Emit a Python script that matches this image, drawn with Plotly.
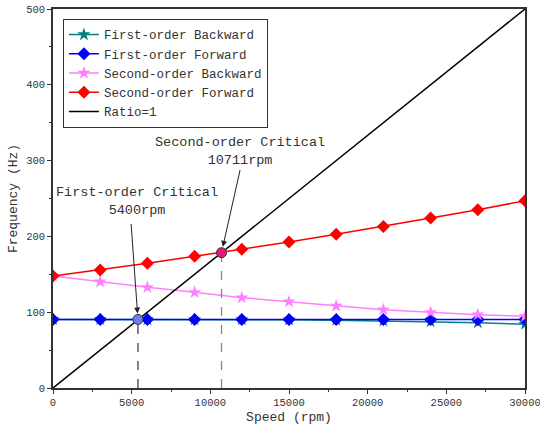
import plotly.graph_objects as go

speed = [0, 3000, 6000, 9000, 12000, 15000, 18000, 21000, 24000, 27000, 30000]
first_backward = [90.5, 90.5, 90.4, 90.3, 90.2, 90.0, 89.5, 88.6, 87.6, 86.2, 84.2]
first_forward = [90.5, 90.5, 90.5, 90.5, 90.5, 90.5, 90.5, 90.5, 90.5, 90.5, 90.5]
second_backward = [147.8, 140.2, 132.8, 126.2, 119.2, 113.9, 108.2, 103.3, 99.8, 96.7, 94.6]
second_forward = [147.8, 155.7, 164.5, 173.7, 183.0, 192.6, 202.8, 213.2, 224.2, 235.2, 247.0]
ratio_speed = [0, 30000]
ratio_freq = [0, 500]

crit_names = ["First-order Critical<br>5400rpm", "Second-order Critical<br>10711rpm"]
crit_speed = [5400, 10711]
crit_freq = [90.5, 178.5]
crit_colors = ["#6a80f5", "#e8187a"]
crit_dash_colors = ["#444444", "#888888"]

FONT = "Liberation Mono"

fig = go.Figure()
fig.add_trace(go.Scatter(x=speed, y=first_backward, name="First-order Backward",
                         mode="lines+markers", line=dict(color="#008080", width=1.5),
                         marker=dict(symbol="star", size=10, color="#008080")))
fig.add_trace(go.Scatter(x=speed, y=first_forward, name="First-order Forward",
                         mode="lines+markers", line=dict(color="#0000ff", width=1.5),
                         marker=dict(symbol="diamond", size=10, color="#0000ff")))
fig.add_trace(go.Scatter(x=speed, y=second_backward, name="Second-order Backward",
                         mode="lines+markers", line=dict(color="#ff80ff", width=1.5),
                         marker=dict(symbol="star", size=10, color="#ff80ff")))
fig.add_trace(go.Scatter(x=speed, y=second_forward, name="Second-order Forward",
                         mode="lines+markers", line=dict(color="#ff0000", width=1.5),
                         marker=dict(symbol="diamond", size=10, color="#ff0000")))
fig.add_trace(go.Scatter(x=ratio_speed, y=ratio_freq, name="Ratio=1",
                         mode="lines", line=dict(color="#000000", width=1.5)))

for s, f, dc in zip(crit_speed, crit_freq, crit_dash_colors):
    fig.add_trace(go.Scatter(x=[s, s], y=[0, f], mode="lines", showlegend=False,
                             line=dict(color=dc, width=1.3, dash="dash"), hoverinfo="skip"))
for s, f, c in zip(crit_speed, crit_freq, crit_colors):
    fig.add_trace(go.Scatter(x=[s], y=[f], mode="markers", showlegend=False,
                             marker=dict(symbol="circle", size=10, color=c,
                                         line=dict(color="#333333", width=1))))

# annotations: text labels and arrows
text_offsets = [(-50, 155), (1200, 134)]   # text center offsets (data units from point)
tail_offsets = [(-442, 128), (1200, 111)]  # arrow tail offsets
for name, s, f, to, ta in zip(crit_names, crit_speed, crit_freq, text_offsets, tail_offsets):
    fig.add_annotation(x=s + to[0], y=f + to[1], text=name, showarrow=False,
                       font=dict(family=FONT, size=13.5, color="#333333"), align="center")
    fig.add_annotation(x=s, y=f, ax=s + ta[0], ay=f + ta[1], axref="x", ayref="y",
                       xref="x", yref="y", text="", showarrow=True, arrowhead=2,
                       arrowsize=1.2, arrowwidth=1, arrowcolor="#222222", standoff=6)

axis_common = dict(showline=True, linecolor="#333333", linewidth=1.5, mirror=True,
                   ticks="outside", ticklen=4, tickcolor="#333333", showgrid=False,
                   zeroline=False, automargin=False, tickformat="d",
                   ticklabeloverflow="allow",
                   tickfont=dict(family=FONT, size=10.5, color="#333333"))
fig.update_xaxes(range=[0, 30000], dtick=5000,
                 minor=dict(ticks="outside", ticklen=2, dtick=2500, tickcolor="#333333"),
                 title=dict(text="Speed (rpm)", font=dict(family=FONT, size=13, color="#333333"),
                            standoff=4), **axis_common)
fig.update_yaxes(range=[0, 500], dtick=100,
                 minor=dict(ticks="outside", ticklen=2, dtick=50, tickcolor="#333333"),
                 title=dict(text="Frequency (Hz)", font=dict(family=FONT, size=13, color="#333333"),
                            standoff=6), **axis_common)

fig.update_layout(
    width=540, height=425,
    margin=dict(l=53, r=15, t=9, b=37),
    plot_bgcolor="white", paper_bgcolor="white",
    font=dict(family=FONT, color="#333333"),
    legend=dict(x=0.021, y=0.974, xanchor="left", yanchor="top",
                bordercolor="#333333", borderwidth=1, bgcolor="white",
                font=dict(family=FONT, size=12.5, color="#333333"),
                tracegroupgap=0, itemwidth=30),
    showlegend=True,
)

fig.write_html("out.html", config={"displayModeBar": False},
               post_script="document.body.style.margin='0';document.body.style.overflow='hidden';")
